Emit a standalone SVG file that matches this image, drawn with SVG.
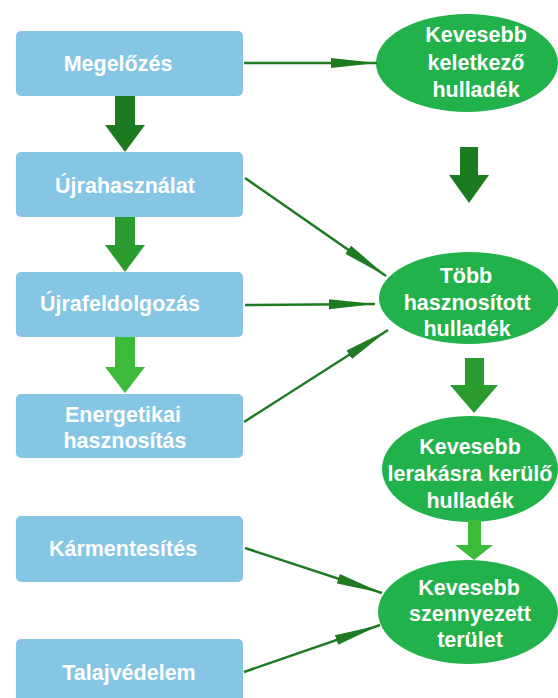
<svg xmlns="http://www.w3.org/2000/svg" width="558" height="698" viewBox="0 0 558 698">
<style>
.box{fill:#85c6e5}
.ell{fill:#22b24b}
.t{font-family:"Liberation Sans",Arial,sans-serif;font-weight:bold;font-size:21.5px;fill:#ffffff;text-anchor:middle}
.ln{stroke:#1e7b22;stroke-width:2.5;fill:none;marker-end:url(#ah)}
.dk{fill:#1c7a20}
.md{fill:#2a9c2f}
.lt{fill:#3cba3a}
</style>
<defs>
<marker id="ah" markerUnits="userSpaceOnUse" viewBox="0 -6 46 12" refX="46" refY="0" markerWidth="46" markerHeight="12" orient="auto">
<polygon points="0,-5 46,0 0,5" fill="#1e7b22"/>
</marker>
</defs>
<rect width="558" height="698" fill="#ffffff"/>
<g id="n-megelozes"><rect class="box" x="16" y="31" width="227" height="65" rx="5"/><text class="t" x="118" y="71">Megelőzés</text></g>
<g id="n-ujrahasznalat"><rect class="box" x="16" y="152" width="227" height="65" rx="5"/><text class="t" x="125" y="193">Újrahasználat</text></g>
<g id="n-ujrafeldolgozas"><rect class="box" x="16" y="272" width="227" height="65" rx="5"/><text class="t" x="120" y="311">Újrafeldolgozás</text></g>
<g id="n-energetikai"><rect class="box" x="16" y="394" width="227" height="64" rx="5"/><text class="t" x="123" y="422">Energetikai</text><text class="t" x="125" y="448">hasznosítás</text></g>
<g id="n-karmentesites"><rect class="box" x="16" y="516" width="227" height="66" rx="5"/><text class="t" x="123" y="556">Kármentesítés</text></g>
<g id="n-talajvedelem"><rect class="box" x="16" y="639" width="227" height="66" rx="5"/><text class="t" x="129" y="680">Talajvédelem</text></g>
<g id="n-kevesebb-keletkezo"><ellipse class="ell" cx="467" cy="63" rx="91" ry="49"/><text class="t" x="476" y="42">Kevesebb</text><text class="t" x="476" y="70">keletkező</text><text class="t" x="476" y="97">hulladék</text></g>
<g id="n-tobb-hasznositott"><ellipse class="ell" cx="469" cy="298" rx="90" ry="46"/><text class="t" x="466" y="283">Több</text><text class="t" x="467" y="310">hasznosított</text><text class="t" x="467" y="336">hulladék</text></g>
<g id="n-kevesebb-lerakasra"><ellipse class="ell" cx="470" cy="469" rx="88" ry="53"/><text class="t" x="470" y="454">Kevesebb</text><text class="t" x="470" y="481">lerakásra kerülő</text><text class="t" x="470" y="508">hulladék</text></g>
<g id="n-kevesebb-szennyezett"><ellipse class="ell" cx="468" cy="612" rx="90" ry="52"/><text class="t" x="469" y="595">Kevesebb</text><text class="t" x="470" y="621">szennyezett</text><text class="t" x="470" y="647">terület</text></g>
<g id="connectors">
<polygon class="dk" points="115,96 135,96 135,125 145,125 125,152 105,125 115,125"/>
<polygon class="md" points="115,217 135,217 135,245 145,245 125,272 105,245 115,245"/>
<polygon class="lt" points="115,337 135,337 135,367 145,367 125,393 105,367 115,367"/>
<polygon class="dk" points="460,147 478,147 478,175 489,175 469,203 449,175 460,175"/>
<polygon class="md" points="465,358 484,358 484,385 498,385 474,413 450,385 465,385"/>
<polygon class="lt" points="468,520 481,520 481,545 493,545 474,560 455,545 468,545"/>
<path class="ln" d="M244,63 L377,63"/>
<path class="ln" d="M245,178 L386,276"/>
<path class="ln" d="M245,305 L375,304"/>
<path class="ln" d="M244,422 L388,330"/>
<path class="ln" d="M245,548 L382,593"/>
<path class="ln" d="M244,672 L380,625"/>
</g>
</svg>
